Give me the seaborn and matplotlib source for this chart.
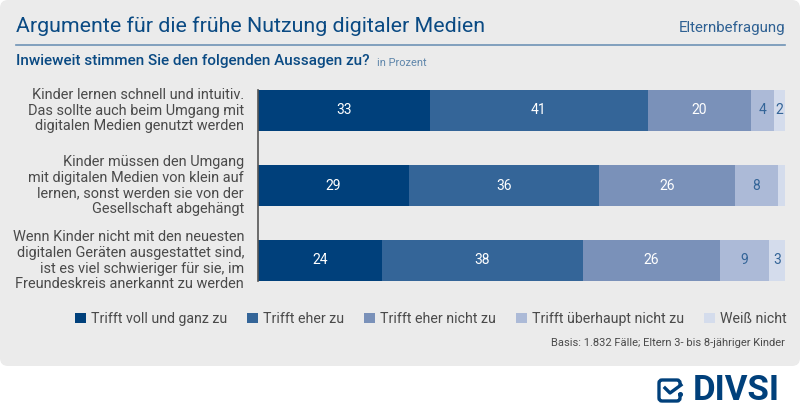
import matplotlib
matplotlib.use("Agg")
import matplotlib.pyplot as plt
import pandas as pd
import seaborn as sns
from matplotlib.patches import FancyBboxPatch, Patch, Rectangle
from matplotlib.transforms import ScaledTranslation

# values (segment widths, labels are rounded)
rows = [0, 1, 2]
row_labels = [
    "Kinder lernen schnell und intuitiv.\nDas sollte auch beim Umgang mit\ndigitalen Medien genutzt werden",
    "Kinder müssen den Umgang\nmit digitalen Medien von klein auf\nlernen, sonst werden sie von der\nGesellschaft abgehängt",
    "Wenn Kinder nicht mit den neuesten\ndigitalen Geräten ausgestattet sind,\nist es viel schwieriger für sie, im\nFreundeskreis anerkannt zu werden",
]
answers = ["Trifft voll und ganz zu", "Trifft eher zu", "Trifft eher nicht zu", "Trifft überhaupt nicht zu", "Weiß nicht"]
voll = [32.6, 28.6, 23.6]
eher = [41.4, 36.2, 38.0]
eher_nicht = [19.5, 25.8, 26.1]
gar_nicht = [4.4, 8.0, 9.3]
weiss_nicht = [2.1, 1.4, 3.0]
shown = [
    ["33", "29", "24"],
    ["41", "36", "38"],
    ["20", "26", "26"],
    ["4", "8", "9"],
    ["2", "", "3"],
]
colors = ["#00407b", "#346598", "#7a91b9", "#acbad7", "#d4dcec"]
label_colors = ["white", "white", "white", "#346598", "#346598"]

BLUE = "#0a4a83"
GREY = "#4a4a4a"

plt.rcParams["font.family"] = ["Roboto", "DejaVu Sans"]

df = pd.DataFrame({"row": rows, answers[0]: voll, answers[1]: eher, answers[2]: eher_nicht,
                   answers[3]: gar_nicht, answers[4]: weiss_nicht})
long_df = df.melt(id_vars="row", var_name="answer", value_name="share")

fig = plt.figure(figsize=(8, 4.16), dpi=100, facecolor="white")

# backdrop in pixel coordinates
bg = fig.add_axes([0, 0, 1, 1])
bg.set_xlim(0, 800)
bg.set_ylim(416, 0)
bg.axis("off")
bg.add_patch(FancyBboxPatch((8, 8), 784, 350, boxstyle="round,pad=8,rounding_size=8",
                            fc="#ebebeb", ec="none", clip_on=False))
bg.plot([16, 785], [45, 45], color="#6f93b5", lw=1.2)
bg.text(16, 26, "Argumente für die frühe Nutzung digitaler Medien", fontsize=15.4, color=BLUE, va="center")
bg.text(785, 28, "Elternbefragung", fontsize=10.8, color="#2f6193", va="center", ha="right")
bg.text(16, 61, "Inwieweit stimmen Sie den folgenden Aussagen zu?", fontsize=11, color=BLUE,
        va="center", fontweight="medium")
bg.text(377, 62.5, "in Prozent", fontsize=7.9, color="#5f86ab", va="center")
bg.text(785, 343, "Basis: 1.832 Fälle; Eltern 3- bis 8-jähriger Kinder", fontsize=8, color=GREY,
        va="center", ha="right")

# logo
bg.add_patch(FancyBboxPatch((660, 381), 19, 19, boxstyle="round,pad=1,rounding_size=3",
                            fc="none", ec="#00407b", lw=2.4))
bg.add_patch(Rectangle((676, 386), 7, 7, fc="white", ec="none", zorder=3))
bg.plot([665, 670, 681], [388, 393, 385], color="#00407b", lw=2.4, zorder=4)
bg.plot([680], [393.5], marker="o", ms=2.6, color="#00407b", zorder=4)
bg.text(693, 391, "DIVSI", fontsize=25, fontweight="bold", color="#00407b", va="center")

# chart axes: rows are 75 px apart, first centre at y=110.5
ax = fig.add_axes([258 / 800, 1 - 298 / 416, 527 / 800, 225 / 416])
ax.patch.set_alpha(0)
sns.histplot(data=long_df, y="row", weights="share", hue="answer", hue_order=answers[::-1],
             palette=dict(zip(answers, colors)), multiple="stack", discrete=True, shrink=0.55,
             alpha=1, linewidth=0, legend=False, ax=ax)
ax.set_xlim(0, 100)
ax.set_ylim(2.5, -0.5)
ax.set_xlabel("")
ax.set_ylabel("")
ax.set_xticks([])
ax.set_yticks(rows)
ax.set_yticklabels(row_labels, fontsize=10.45, color=GREY, ma="right", linespacing=1.15)
ax.tick_params(axis="y", length=0, pad=10)
# row texts sit about 2 px above the bar centres
lift = ScaledTranslation(0, 2 / 100, fig.dpi_scale_trans)
for t in ax.get_yticklabels():
    t.set_transform(t.get_transform() + lift)
for s in ["top", "right", "bottom"]:
    ax.spines[s].set_visible(False)
ax.spines["left"].set_color("#555555")
ax.spines["left"].set_linewidth(1.2)
ax.spines["left"].set_bounds(-0.27, 2.27)

# containers follow the answers order
for cont, labs, col in zip(ax.containers, shown, label_colors):
    ax.bar_label(cont, labels=labs, label_type="center", color=col, fontsize=10)

handles = [Patch(fc=c, ec="none") for c in colors]
bg.legend(handles, answers, ncol=5, loc="center left", bbox_to_anchor=(75 / 800, 1 - 319 / 416),
          borderpad=0, borderaxespad=0, frameon=False, fontsize=10.2, labelcolor=GREY,
          handlelength=0.78, handleheight=0.78, handletextpad=0.35, columnspacing=1.4)

fig.savefig("out.png", dpi=100)
